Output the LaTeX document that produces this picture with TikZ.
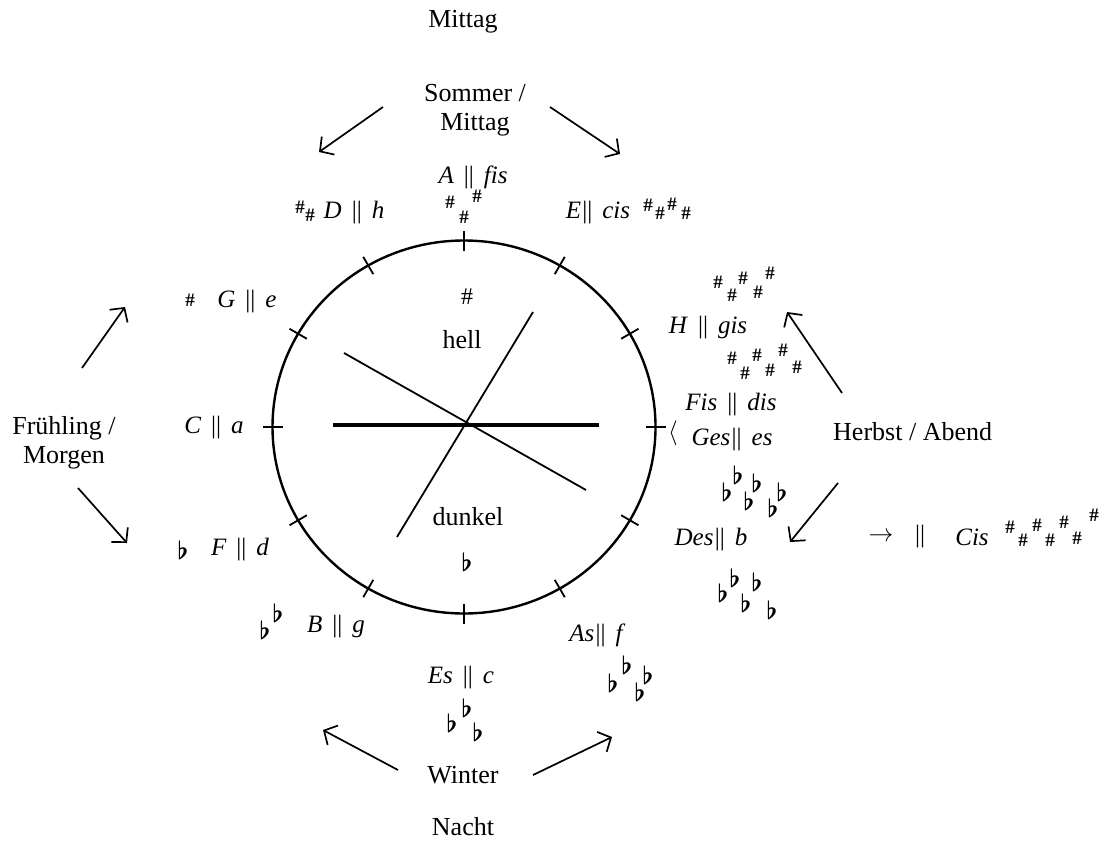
\documentclass[tikz,border=0pt]{standalone}
\usepackage{fontspec}
\setmainfont{Liberation Serif}
\usetikzlibrary{arrows.meta}
\newcommand{\keybar}{\hspace{0.4em}\textup{||}\hspace{0.4em}}
\newcommand{\keybarl}{\hspace{0.05em}\textup{||}\hspace{0.4em}}

\begin{document}
\begin{tikzpicture}[x=1pt, y=-1pt]
    % circle of fifths with seasons / times of day
\tikzset{
  season/.style={font=\fontsize{26}{29}\selectfont, align=center, inner sep=0},
  keylab/.style={font=\fontsize{25}{27}\selectfont\itshape, inner sep=0},
  sharp/.style={font=\fontsize{19}{19}\selectfont\bfseries, inner sep=0},
  flatsign/.style={font=\fontsize{26}{26}\selectfont\boldmath, inner sep=0},
  turn/.style={-{Straight Barb[length=10pt, width=22pt]}, line width=1.7pt},
  cut/.style={line width=1.8pt},
}
  \useasboundingbox (0,0) rectangle (1107,843);

  % the circle and its twelve marks
  \draw[line width=2.4pt] (464,427) ellipse (191.5 and 186.5);
  \foreach \a in {0,30,...,330}
    \draw[cut] ({464+181.5*cos(\a)},{427+176.5*sin(\a)}) -- ({464+201.5*cos(\a)},{427+196.5*sin(\a)});

  % inner lines
  \draw[line width=4.5pt] (333,425) -- (599,425);
  \draw[line width=1.8pt] (344,353) -- (586,490);
  \draw[line width=1.8pt] (533,312) -- (397,537);

  % hell / dunkel
  \node[inner sep=0, font=\fontsize{24}{24}\selectfont] (hellsign) at (467,297) {\#};
  \node[season] (hell) at (462,340) {hell};
  \node[season] (dunkel) at (468,517) {dunkel};
  \node[flatsign] (dunkelsign) at (467,562) {$\flat$};

  % seasons
  \node[season] (noon) at (463,22) {Mittag};
  \node[season] (summer) at (475,110) {Sommer /\\Mittag};
  \node[season] (spring) at (64,443) {Frühling /\\Morgen};
  \node[season, anchor=west] (autumn) at (833,432) {Herbst / Abend};
  \node[season] (winter) at (463,775) {Winter};
  \node[season] (night) at (463,827) {Nacht};

  % keys, clockwise from the top
  \node[keylab] (kA) at (473,177) {A\keybar fis};
  \node[keylab] (kE) at (598,213) {E\keybarl cis};
  \node[keylab] (kH) at (708,328) {H\keybar gis};
  \node[keylab] (kFis) at (731,405) {Fis\keybar dis};
  \node[keylab] (kGes) at (732,440) {Ges\keybarl es};
  \node[keylab] (kDes) at (711,540) {Des\keybarl b};
  \node[keylab] (kAs) at (596,635) {As\keybarl f};
  \node[keylab] (kEs) at (461,678) {Es\keybar c};
  \node[keylab] (kB) at (336,627) {B\keybar g};
  \node[keylab] (kF) at (240,550) {F\keybar d};
  \node[keylab] (kC) at (214,428) {C\keybar a};
  \node[keylab] (kG) at (247,302) {G\keybar e};
  \node[keylab] (kD) at (354,213) {D\keybar h};
  \node[font=\fontsize{24}{24}\selectfont, inner sep=0] (pair) at (673,433) {$\langle$};

  % sharps
  \foreach \x/\y [count=\i] in {450/202,477/196,464/217}
    \node[sharp] (sA\i) at (\x,\y) {\#};
  \foreach \x/\y [count=\i] in {648/205,660/213,672/204,686/213}
    \node[sharp] (sE\i) at (\x,\y) {\#};
  \foreach \x/\y [count=\i] in {718/282,743/278,770/273,732/295,758/292}
    \node[sharp] (sH\i) at (\x,\y) {\#};
  \foreach \x/\y [count=\i] in {732/358,757/355,783/350,745/373,770/370,797/367}
    \node[sharp] (sFis\i) at (\x,\y) {\#};
  \node[sharp] (sG1) at (190,300) {\#};
  \foreach \x/\y [count=\i] in {300/207,310/215}
    \node[sharp] (sD\i) at (\x,\y) {\#};

  % flats
  \foreach \x/\y [count=\i] in {727/492,738/475,757/483,749/501,773/508,782/492}
    \node[flatsign] (fGes\i) at (\x,\y) {$\flat$};
  \foreach \x/\y [count=\i] in {723/593,735/578,746/603,757/582,772/610}
    \node[flatsign] (fDes\i) at (\x,\y) {$\flat$};
  \foreach \x/\y [count=\i] in {613/683,627/665,648/675,640/692}
    \node[flatsign] (fAs\i) at (\x,\y) {$\flat$};
  \foreach \x/\y [count=\i] in {452/723,467/708,478/732}
    \node[flatsign] (fEs\i) at (\x,\y) {$\flat$};
  \foreach \x/\y [count=\i] in {265/630,278/613}
    \node[flatsign] (fB\i) at (\x,\y) {$\flat$};
  \node[flatsign] (fF1) at (183,550) {$\flat$};

  % Cis (enharmonic to Des)
  \node[font=\fontsize{24}{24}\selectfont, inner sep=0] (toCis) at (881,537) {$\rightarrow$};
  \node[keylab] (barCis) at (920,537) {\textup{||}};
  \node[keylab] (kCis) at (972,537) {Cis};
  \foreach \x/\y [count=\i] in {1010/527,1023/540,1037/525,1050/540,1064/522,1077/538,1094/515}
    \node[sharp] (sCis\i) at (\x,\y) {\#};

  % turning arrows
  \coordinate (sumL0) at (383,107);  \coordinate (sumL1) at (319,152);
  \coordinate (sumR0) at (550,107);  \coordinate (sumR1) at (620,154);
  \coordinate (sprU0) at (82,368);   \coordinate (sprU1) at (125,307);
  \coordinate (sprD0) at (78,488);   \coordinate (sprD1) at (127,543);
  \coordinate (autU0) at (842,393);  \coordinate (autU1) at (787,312);
  \coordinate (autD0) at (838,483);  \coordinate (autD1) at (790,542);
  \coordinate (winL0) at (398,770);  \coordinate (winL1) at (323,730);
  \coordinate (winR0) at (533,775);  \coordinate (winR1) at (612,737);
  \draw[turn] (sumL0) -- (sumL1);
  \draw[turn] (sumR0) -- (sumR1);
  \draw[turn] (sprU0) -- (sprU1);
  \draw[turn] (sprD0) -- (sprD1);
  \draw[turn] (autU0) -- (autU1);
  \draw[turn] (autD0) -- (autD1);
  \draw[turn] (winL0) -- (winL1);
  \draw[turn] (winR0) -- (winR1);

  \end{tikzpicture}
\end{document}
